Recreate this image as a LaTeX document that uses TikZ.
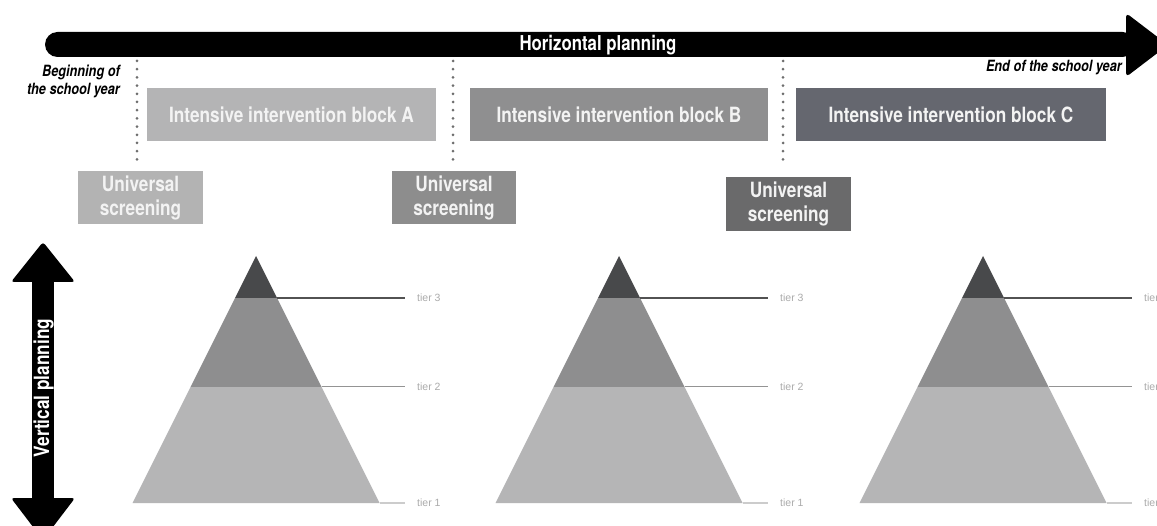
\documentclass[tikz,border=0pt]{standalone}
\usepackage{fontspec}
\newfontfamily\cond[FakeStretch=0.82]{TeX Gyre Heros}
\newfontfamily\tierfont{Liberation Sans}
\definecolor{boxA}{HTML}{B4B4B5}
\definecolor{boxB}{HTML}{8F8F90}
\definecolor{boxC}{HTML}{65676F}
\definecolor{usA}{HTML}{B3B3B3}
\definecolor{usB}{HTML}{8D8D8D}
\definecolor{usC}{HTML}{6A6A6B}
\definecolor{pyrTop}{HTML}{48494B}
\definecolor{pyrMid}{HTML}{8E8E8F}
\definecolor{pyrBot}{HTML}{B5B5B6}
\definecolor{boxtext}{HTML}{F3F3F3}
\definecolor{dotgray}{HTML}{6E6E6E}
\tikzset{
  blockbox/.style={rectangle, inner sep=0pt, minimum height=53pt, text=boxtext,
    font=\cond\bfseries\fontsize{21}{24}\selectfont},
  usbox/.style={blockbox, align=center, minimum width=125pt},
  dotline/.style={draw=dotgray, line width=3pt, line cap=round, dash pattern=on 0pt off 8.2pt},
  yearlabel/.style={inner sep=0pt, font=\cond\bfseries\itshape\fontsize{15.5}{19}\selectfont},
  tierlabel/.style={inner sep=0pt, anchor=west, text=black!33, font=\tierfont\fontsize{10.5}{12}\selectfont},
}
\begin{document}
\begin{tikzpicture}[x=1pt,y=-1pt]
\clip (0,0) rectangle (1157,526);
\fill[white] (0,0) rectangle (1157,526);

% horizontal arrow
\fill[black, rounded corners=12.5pt] (45,32) rectangle (1135,57);
\fill[black, rounded corners=4pt] (1126,13) -- (1168,45) -- (1126,77) -- cycle;
\node[text=white, inner sep=0pt, font=\cond\bfseries\fontsize{20.5}{24}\selectfont] (hp) at (598,45) {Horizontal planning};

% year labels
\node[yearlabel, align=right, anchor=east] (begin) at (120,81.5) {Beginning of\\[-1.5pt]the school year};
\node[yearlabel, anchor=east] (end) at (1122,68) {End of the school year};

% dotted separators
\coordinate (d1t) at (137,61); \coordinate (d1b) at (137,162);
\coordinate (d2t) at (453,61); \coordinate (d2b) at (453,162);
\coordinate (d3t) at (783,61); \coordinate (d3b) at (783,162);
\draw[dotline] (d1t) -- (d1b);
\draw[dotline] (d2t) -- (d2b);
\draw[dotline] (d3t) -- (d3b);

% intervention blocks
\node[blockbox, fill=boxA, minimum width=289pt] (bA) at (291.5,114.5) {Intensive intervention block A};
\node[blockbox, fill=boxB, minimum width=298pt] (bB) at (619,114.5) {Intensive intervention block B};
\node[blockbox, fill=boxC, minimum width=310pt] (bC) at (951,114.5) {Intensive intervention block C};

% universal screening
\node[usbox, fill=usA] (usA) at (140.5,197.5) {Universal\\screening};
\node[usbox, fill=usB, minimum width=124pt] (usB) at (454,197.5) {Universal\\screening};
\node[usbox, fill=usC, minimum height=54pt] (usC) at (788.5,204) {Universal\\screening};

% vertical arrow
\fill[black] (32,278) rectangle (54,502);
\fill[black, rounded corners=3pt] (11,282) -- (43,242) -- (75,282) -- cycle;
\fill[black, rounded corners=3pt] (11,498) -- (43,540) -- (75,498) -- cycle;
\node[text=white, inner sep=0pt, rotate=90, font=\cond\bfseries\fontsize{21}{24}\selectfont] (vp) at (43.5,388) {Vertical planning};

% pyramids
\foreach \ax/\nm in {256/p1, 619/p2, 983/p3}{
  \fill[pyrBot] (\ax-65.5,387) -- (\ax+65.5,387) -- (\ax+123.5,503) -- (\ax-123.5,503) -- cycle;
  \fill[pyrMid] (\ax-21,298) -- (\ax+21,298) -- (\ax+65.5,387) -- (\ax-65.5,387) -- cycle;
  \fill[pyrTop] (\ax,256) -- (\ax+21,298) -- (\ax-21,298) -- cycle;
  \draw[black!68, line width=1.3pt] (\ax+21,298) -- (\ax+149,298);
  \draw[black!42, line width=1pt] (\ax+65.5,387) -- (\ax+149,387);
  \draw[black!20, line width=1.3pt] (\ax+123.5,503) -- (\ax+149,503);
  \node[tierlabel] (\nm t3) at (\ax+161,298) {tier 3};
  \node[tierlabel] (\nm t2) at (\ax+161,387) {tier 2};
  \node[tierlabel] (\nm t1) at (\ax+161,503) {tier 1};
}
\end{tikzpicture}
\end{document}
